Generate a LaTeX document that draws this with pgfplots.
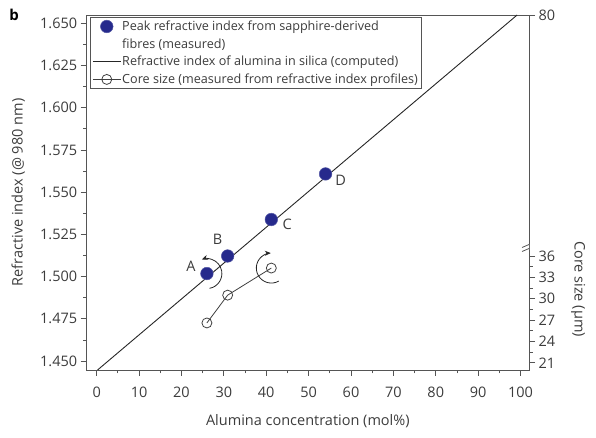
\documentclass[border=0pt]{standalone}
\usepackage{pgfplots}
\pgfplotsset{compat=1.18}
\usepackage{fontspec}
\setmainfont{Open Sans}
\usetikzlibrary{arrows.meta}
\definecolor{txt}{HTML}{3C3C3C}
\definecolor{axc}{HTML}{555555}
\definecolor{navy}{RGB}{38,42,140}
\begin{document}
\begin{tikzpicture}[x=1pt,y=1pt]
\useasboundingbox (0,0) rectangle (596,438);
\node[font=\bfseries\fontsize{15}{15}\selectfont, anchor=center] at (14,423) {b};
\pgfplotsset{
  commonax/.style={
    at={(86.7pt,68pt)}, anchor=south west, width=442.3pt, height=355pt, scale only axis,
    xmin=-2.36, xmax=102,
    tick align=outside,
    major tick length=6pt, minor tick length=3.5pt,
    every tick/.style={axc, line width=0.8pt},
    axis line style={axc, line width=0.8pt},
    every tick label/.append style={font=\fontsize{14.5}{16}\selectfont, text=txt},
    /pgf/number format/assume math mode=true,
    label style={font=\fontsize{14.5}{16}\selectfont, text=txt},
  }
}
\begin{axis}[
  commonax,
  ymin=1.4447, ymax=1.6549,
  xtick={0,10,...,100}, minor x tick num=1,
  ytick={1.450,1.475,1.500,1.525,1.550,1.575,1.600,1.625,1.650},
  yticklabels={1.450,1.475,1.500,1.525,1.550,1.575,1.600,1.625,1.650},
  minor y tick num=1,
  xtick pos=bottom, ytick pos=left,
  xticklabel style={yshift=-7pt},
  xlabel={Alumina concentration (mol\%)},
  ylabel={Refractive index (@ 980 nm)},
  xlabel style={at={(axis description cs:0.5,-0.145)}, anchor=center},
  ylabel style={at={(axis description cs:-0.155,0.5)}, anchor=center},
  legend cell align=left,
  legend style={at={(axis description cs:0.0075,0.994)}, anchor=north west,
    draw=axc, line width=0.6pt, font=\fontsize{12.6}{14}\selectfont, text=txt,
    row sep=4.5pt, inner xsep=2pt, inner ysep=2.5pt,
    nodes={inner sep=1pt}},
  legend image code/.code={\draw[mark repeat=2,mark phase=2,#1] plot coordinates {(0pt,0pt) (14pt,0pt) (28pt,0pt)};},
]
\addplot[only marks, mark=*, mark size=6.3pt, mark options={fill=navy, draw=navy!80!white, line width=0.5pt}]
  coordinates {(26.0,1.5018) (30.9,1.5122) (41.2,1.5338) (54.0,1.5608)};
\addlegendentry{Peak refractive index from sapphire-derived}
\addlegendimage{empty legend}
\addlegendentry{fibres (measured)}
\addplot[black!85, line width=0.9pt] coordinates {(0.2,1.4447) (99.2,1.6549)};
\addlegendentry{Refractive index of alumina in silica (computed)}
\addlegendimage{black!75, line width=0.8pt, mark=o, mark size=5pt, mark options={fill=white, line width=0.8pt}}
\addlegendentry{Core size (measured from refractive index profiles)}
\node[font=\fontsize{14.5}{16}\selectfont, text=txt] at (axis cs:26.0,1.5018) [xshift=-16pt, yshift=7pt] {A};
\node[font=\fontsize{14.5}{16}\selectfont, text=txt] at (axis cs:30.9,1.5122) [xshift=-10pt, yshift=17pt] {B};
\node[font=\fontsize{14.5}{16}\selectfont, text=txt] at (axis cs:41.2,1.5338) [xshift=16pt, yshift=-5pt] {C};
\node[font=\fontsize{14.5}{16}\selectfont, text=txt] at (axis cs:54.0,1.5608) [xshift=15pt, yshift=-6pt] {D};
\draw[black!85, line width=0.8pt, -{Stealth[length=6pt,width=5pt]}] (axis cs:26.0,1.5018) ++(-80:15pt) arc[start angle=-80, end angle=110, radius=15pt];
\end{axis}
\begin{axis}[
  commonax,
  ymin=20, ymax=69.8,
  axis x line=none, axis y line*=right,
  ytick={21,24,27,30,33,36,69.8},
  yticklabels={21,24,27,30,33,36,80},
  minor ytick={22.5,25.5,28.5,31.5,34.5},
  ylabel={Core size (µm)},
  ylabel style={at={(axis description cs:1.111,0.228)}, anchor=center, rotate=180},
]
\addplot[black!75, line width=0.8pt, mark=o, mark size=5pt, mark options={fill=white, line width=0.8pt}]
  coordinates {(26.0,26.6) (30.9,30.5) (41.2,34.3)};
\draw[black!85, line width=0.8pt, -{Stealth[length=6pt,width=5pt]}] (axis cs:41.2,34.3) ++(-60:15pt) arc[start angle=-60, end angle=-268, radius=15pt];
\fill[white] (rel axis cs:1,0.345) ++(-3pt,-2pt) rectangle ++(6pt,6pt);
\draw[axc, line width=0.8pt] (rel axis cs:1,0.345) ++(-7pt,-4pt) -- ++(14pt,6pt);
\draw[axc, line width=0.8pt] (rel axis cs:1,0.345) ++(-7pt,0pt) -- ++(14pt,6pt);
\end{axis}
\end{tikzpicture}
\end{document}
